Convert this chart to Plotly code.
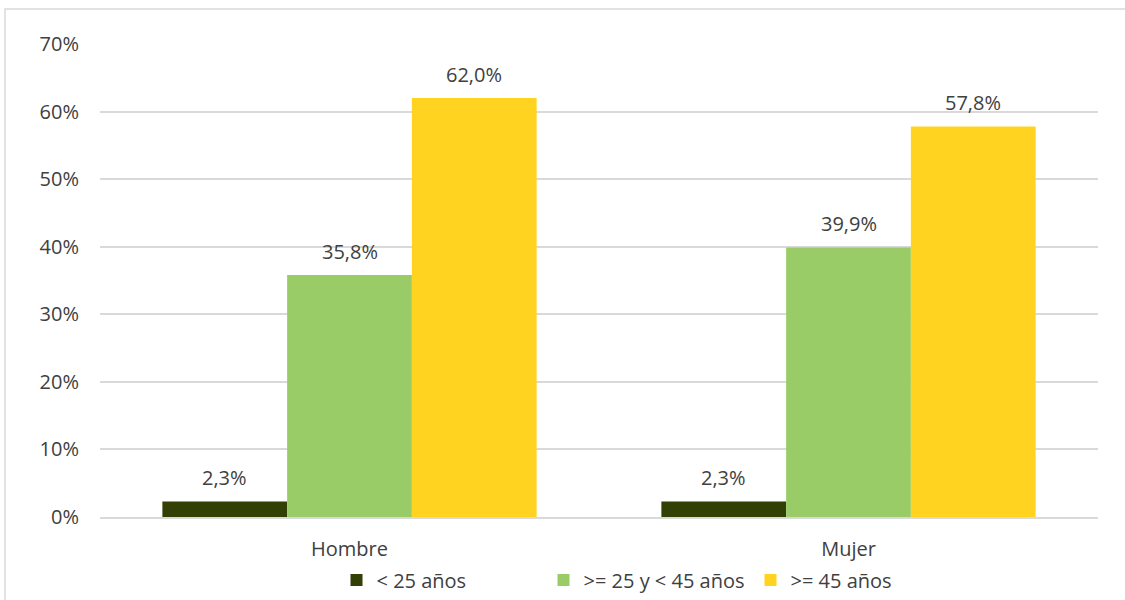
import plotly.graph_objects as go

categories = ["Hombre", "Mujer"]
series_names = ["< 25 años", ">= 25 y < 45 años", ">= 45 años"]
val_lt25 = [2.3, 2.3]
val_25_45 = [35.8, 39.9]
val_ge45 = [62.0, 57.8]
colors = ["#334005", "#99CC66", "#FFD320"]
tick_vals = [0, 10, 20, 30, 40, 50, 60, 70]
tick_text = ["0%", "10%", "20%", "30%", "40%", "50%", "60%", "70%"]

W, H = 1125, 600
L, R, T, B = 100, 27, 44, 83
pw, ph = W - L - R, H - T - B
BARGAP = 0.25
FS = 20
TXT = "#404040"

fig = go.Figure()
all_vals = [val_lt25, val_25_45, val_ge45]
for name, vals, col in zip(series_names, all_vals, colors):
    fig.add_trace(go.Bar(
        x=categories, y=vals, name=name, marker=dict(color=col, line=dict(width=0)),
    ))

# data labels above the bars, offset like the grouped bars
cat_px = pw / len(categories)
bar_px = cat_px * (1 - BARGAP) / len(series_names)
for i, vals in enumerate(all_vals):
    off = (i - (len(series_names) - 1) / 2) * bar_px
    for c, v in zip(categories, vals):
        fig.add_annotation(x=c, y=v, xref="x", yref="y", text=f"{v:.1f}%".replace(".", ","),
                           showarrow=False, xshift=off, yshift=24, yanchor="middle",
                           font=dict(size=FS, color=TXT))

def px_x(p):
    return (p - L) / pw

def px_y(p):
    return (H - B - p) / ph

fig.add_shape(type="rect", xref="paper", yref="paper",
              x0=px_x(5), x1=px_x(1130), y0=px_y(610), y1=px_y(9),
              line=dict(color="#D9D9D9", width=1.5), fillcolor="rgba(0,0,0,0)", layer="below")

fig.update_layout(
    width=W, height=H,
    margin=dict(l=L, r=R, t=T, b=B, autoexpand=False),
    paper_bgcolor="white", plot_bgcolor="white",
    barmode="group", bargap=BARGAP, bargroupgap=0,
    font=dict(family="Open Sans, Liberation Sans, sans-serif", size=FS, color=TXT),
    showlegend=True,
    legend=dict(orientation="h", x=px_x(647), xanchor="center", y=px_y(580), yanchor="middle",
                font=dict(size=FS, color=TXT), traceorder="normal",
                entrywidth=162, entrywidthmode="pixels",
                bgcolor="rgba(0,0,0,0)"),
)
fig.update_yaxes(range=[0, 70], tickvals=tick_vals, ticktext=tick_text,
                 showgrid=True, gridcolor="#D9D9D9", gridwidth=1.5,
                 zeroline=False, showline=False, ticks="", ticklabelstandoff=20,
                 tickfont=dict(size=FS, color=TXT))
fig.update_xaxes(showline=True, linecolor="#D9D9D9", linewidth=1.5, ticks="",
                 showgrid=False, ticklabelstandoff=13,
                 tickfont=dict(size=FS, color=TXT))

fig.write_html("out.html", config={"displayModeBar": False},
               post_script="document.body.style.margin='0';")
